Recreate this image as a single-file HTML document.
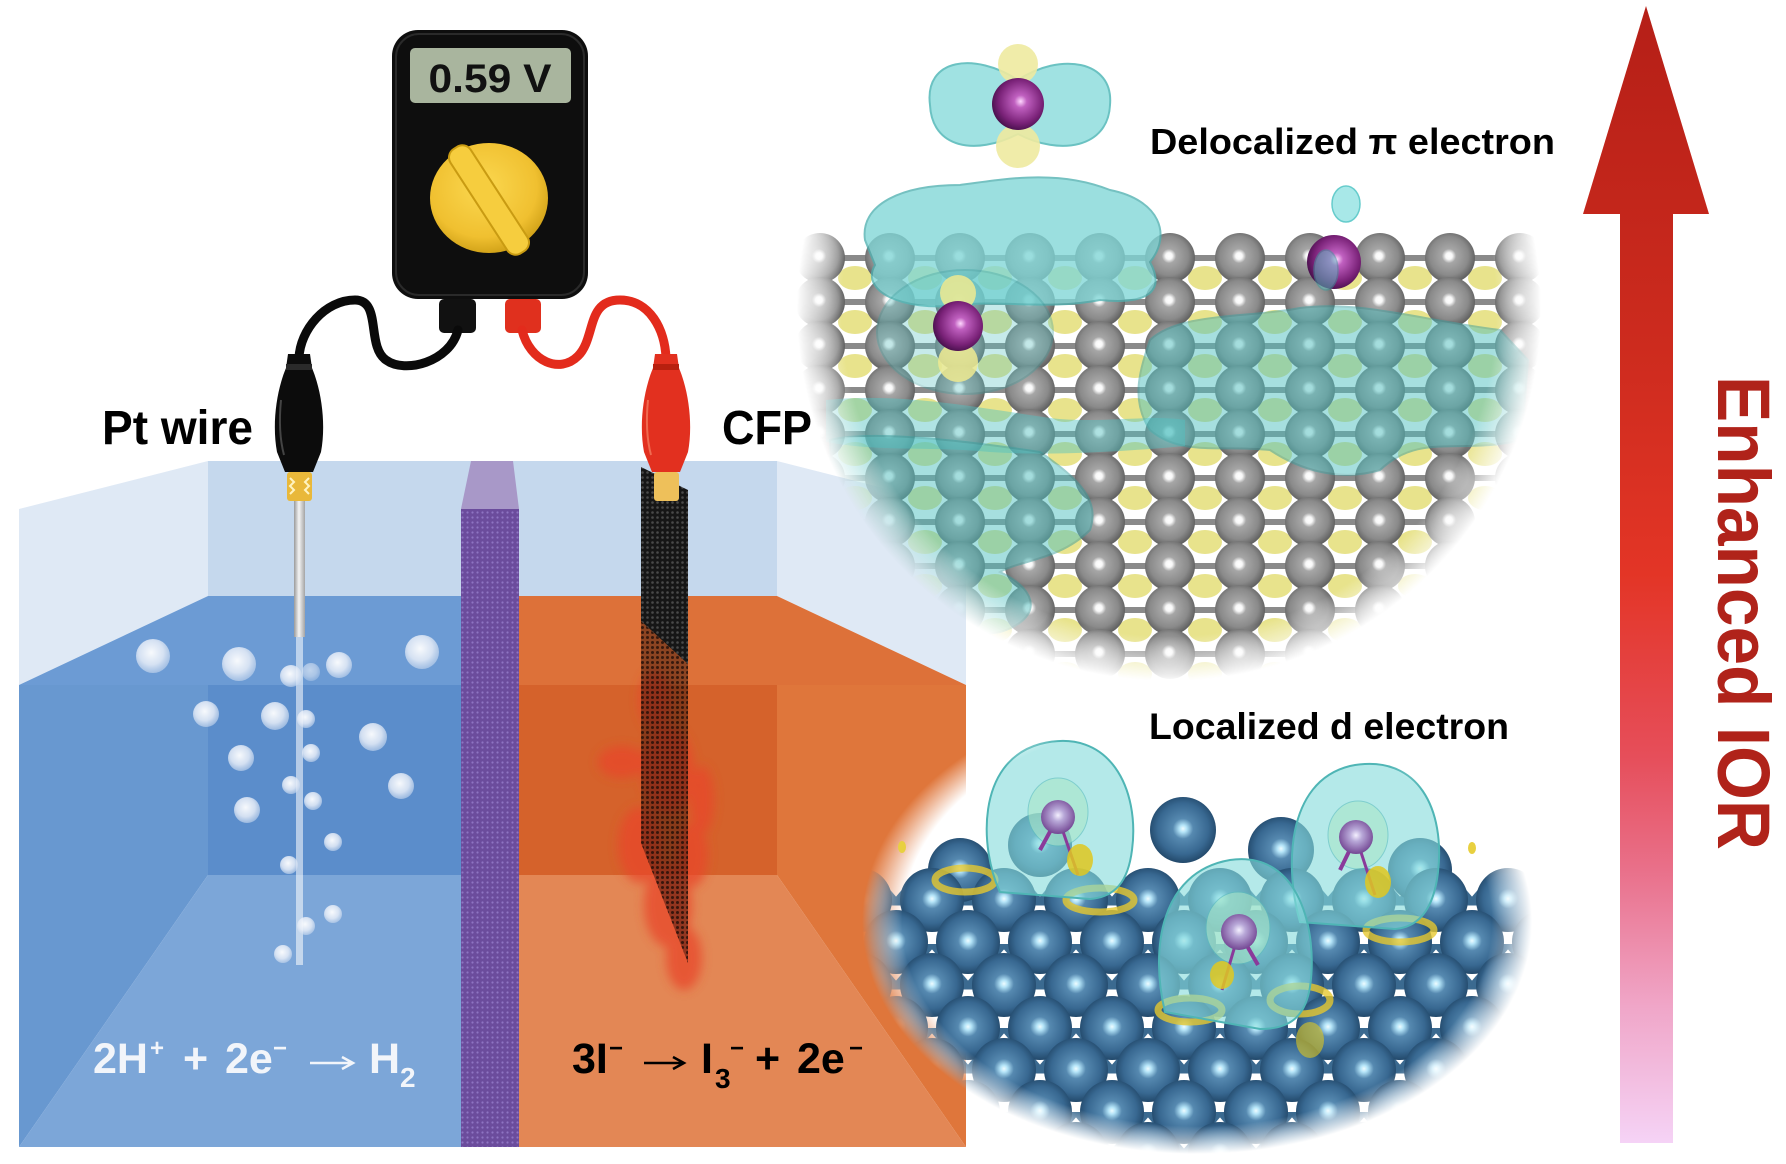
<!DOCTYPE html>
<html><head><meta charset="utf-8"><style>html,body{margin:0;padding:0;background:#fff}svg{display:block}</style></head>
<body>
<svg width="1786" height="1164" viewBox="0 0 1786 1164" xmlns="http://www.w3.org/2000/svg" font-family="'Liberation Sans', sans-serif" font-weight="bold">
<defs>
  <radialGradient id="grayG" cx="0.48" cy="0.46" r="0.55">
    <stop offset="0" stop-color="#ffffff"/><stop offset="0.12" stop-color="#f8f8f8"/><stop offset="0.26" stop-color="#a6a6a6"/><stop offset="0.7" stop-color="#8a8a8a"/><stop offset="1" stop-color="#5c5c5c"/>
  </radialGradient>
  <radialGradient id="blueG" cx="0.5" cy="0.48" r="0.55">
    <stop offset="0" stop-color="#effcff"/><stop offset="0.1" stop-color="#b4e4f8"/><stop offset="0.28" stop-color="#5689b0"/><stop offset="0.7" stop-color="#386891"/><stop offset="1" stop-color="#1e4262"/>
  </radialGradient>
  <radialGradient id="purpG" cx="0.55" cy="0.45" r="0.6">
    <stop offset="0" stop-color="#ffd8ff"/><stop offset="0.2" stop-color="#c060c0"/><stop offset="0.7" stop-color="#7a2278"/><stop offset="1" stop-color="#3e0c44"/>
  </radialGradient>
  <radialGradient id="lavG" cx="0.5" cy="0.45" r="0.6">
    <stop offset="0" stop-color="#f4f0ff"/><stop offset="0.3" stop-color="#b8a8d8"/><stop offset="1" stop-color="#6a3a8a"/>
  </radialGradient>
  <radialGradient id="bubG" cx="0.45" cy="0.4" r="0.6">
    <stop offset="0" stop-color="#ffffff" stop-opacity="0.95"/><stop offset="0.6" stop-color="#e8eef8" stop-opacity="0.85"/><stop offset="1" stop-color="#c8d8ee" stop-opacity="0.6"/>
  </radialGradient>
  <radialGradient id="knobG" cx="0.45" cy="0.4" r="0.65">
    <stop offset="0" stop-color="#fbd850"/><stop offset="0.7" stop-color="#f0c030"/><stop offset="1" stop-color="#c99a12"/>
  </radialGradient>
  <radialGradient id="fadeMask" cx="0.5" cy="0.5" r="0.5">
    <stop offset="0" stop-color="#fff"/><stop offset="0.88" stop-color="#fff"/><stop offset="1" stop-color="#000"/>
  </radialGradient>
  <radialGradient id="whiteFade" cx="0.5" cy="0.5" r="0.5">
    <stop offset="0" stop-color="#fff" stop-opacity="1"/><stop offset="0.88" stop-color="#fff" stop-opacity="1"/><stop offset="1" stop-color="#fff" stop-opacity="0"/>
  </radialGradient>
  <linearGradient id="arrowG" x1="0" y1="6" x2="0" y2="1143" gradientUnits="userSpaceOnUse">
    <stop offset="0" stop-color="#b51f17"/><stop offset="0.3" stop-color="#cd2b1e"/><stop offset="0.5" stop-color="#e33526"/><stop offset="0.66" stop-color="#e64e5a"/><stop offset="0.76" stop-color="#e9708a"/><stop offset="0.88" stop-color="#f0a6c8"/><stop offset="1" stop-color="#f5d3f6"/>
  </linearGradient>
  <linearGradient id="rodG" x1="0" y1="0" x2="1" y2="0">
    <stop offset="0" stop-color="#9a9a9a"/><stop offset="0.45" stop-color="#f4f4f4"/><stop offset="1" stop-color="#a4a4a4"/>
  </linearGradient>
  <pattern id="carbon" width="5" height="5" patternUnits="userSpaceOnUse">
    <rect width="5" height="5" fill="#161616"/><circle cx="2.5" cy="2.5" r="1.3" fill="#4a4a4a"/>
  </pattern>
  <pattern id="carbonT" width="5" height="5" patternUnits="userSpaceOnUse">
    <circle cx="2.5" cy="2.5" r="1.5" fill="#1a0a05" fill-opacity="0.75"/>
  </pattern>
  <pattern id="memb" width="5" height="5" patternUnits="userSpaceOnUse">
    <rect width="5" height="5" fill="#6b4c9c"/><circle cx="2.5" cy="2.5" r="1.1" fill="#8e74c2"/>
  </pattern>
  <pattern id="bonds" width="72" height="42" patternUnits="userSpaceOnUse" x="860" y="860">
    <line x1="0" y1="0" x2="36" y2="42" stroke="#3b6a90" stroke-width="7"/>
    <line x1="72" y1="0" x2="36" y2="42" stroke="#3b6a90" stroke-width="7"/>
    <line x1="0" y1="0" x2="72" y2="0" stroke="#3b6a90" stroke-width="7"/>
  </pattern>
  <filter id="blur4" x="-50%" y="-50%" width="200%" height="200%"><feGaussianBlur stdDeviation="5"/></filter>
  <mask id="mU" maskUnits="userSpaceOnUse" x="0" y="0" width="1786" height="1164">
    <circle cx="1169" cy="309" r="372" fill="url(#fadeMask)"/>
  </mask>
  <mask id="mL" maskUnits="userSpaceOnUse" x="0" y="0" width="1786" height="1164">
    <rect x="862" y="690" width="670" height="464" fill="url(#fadeMask)"/>
  </mask>
  <g id="rowU">
    <line x1="820" y1="0" x2="1520" y2="0" stroke="#8a8a8a" stroke-width="6"/>
    <ellipse cx="855" cy="20" rx="17" ry="12" fill="#e4de78" opacity="0.85"/>
    <ellipse cx="925" cy="20" rx="17" ry="12" fill="#e4de78" opacity="0.85"/>
    <ellipse cx="995" cy="20" rx="17" ry="12" fill="#e4de78" opacity="0.85"/>
    <ellipse cx="1065" cy="20" rx="17" ry="12" fill="#e4de78" opacity="0.85"/>
    <ellipse cx="1135" cy="20" rx="17" ry="12" fill="#e4de78" opacity="0.85"/>
    <ellipse cx="1205" cy="20" rx="17" ry="12" fill="#e4de78" opacity="0.85"/>
    <ellipse cx="1275" cy="20" rx="17" ry="12" fill="#e4de78" opacity="0.85"/>
    <ellipse cx="1345" cy="20" rx="17" ry="12" fill="#e4de78" opacity="0.85"/>
    <ellipse cx="1415" cy="20" rx="17" ry="12" fill="#e4de78" opacity="0.85"/>
    <ellipse cx="1485" cy="20" rx="17" ry="12" fill="#e4de78" opacity="0.85"/>
    <circle cx="820" cy="0" r="25" fill="url(#grayG)"/>
    <circle cx="890" cy="0" r="25" fill="url(#grayG)"/>
    <circle cx="960" cy="0" r="25" fill="url(#grayG)"/>
    <circle cx="1030" cy="0" r="25" fill="url(#grayG)"/>
    <circle cx="1100" cy="0" r="25" fill="url(#grayG)"/>
    <circle cx="1170" cy="0" r="25" fill="url(#grayG)"/>
    <circle cx="1240" cy="0" r="25" fill="url(#grayG)"/>
    <circle cx="1310" cy="0" r="25" fill="url(#grayG)"/>
    <circle cx="1380" cy="0" r="25" fill="url(#grayG)"/>
    <circle cx="1450" cy="0" r="25" fill="url(#grayG)"/>
    <circle cx="1520" cy="0" r="25" fill="url(#grayG)"/>
  </g>
  <g id="rowLa">
    <circle cx="860" cy="0" r="32" fill="url(#blueG)"/>
    <circle cx="932" cy="0" r="32" fill="url(#blueG)"/>
    <circle cx="1004" cy="0" r="32" fill="url(#blueG)"/>
    <circle cx="1076" cy="0" r="32" fill="url(#blueG)"/>
    <circle cx="1148" cy="0" r="32" fill="url(#blueG)"/>
    <circle cx="1220" cy="0" r="32" fill="url(#blueG)"/>
    <circle cx="1292" cy="0" r="32" fill="url(#blueG)"/>
    <circle cx="1364" cy="0" r="32" fill="url(#blueG)"/>
    <circle cx="1436" cy="0" r="32" fill="url(#blueG)"/>
    <circle cx="1508" cy="0" r="32" fill="url(#blueG)"/>
  </g>
  <g id="rowLb">
    <circle cx="896" cy="0" r="32" fill="url(#blueG)"/>
    <circle cx="968" cy="0" r="32" fill="url(#blueG)"/>
    <circle cx="1040" cy="0" r="32" fill="url(#blueG)"/>
    <circle cx="1112" cy="0" r="32" fill="url(#blueG)"/>
    <circle cx="1184" cy="0" r="32" fill="url(#blueG)"/>
    <circle cx="1256" cy="0" r="32" fill="url(#blueG)"/>
    <circle cx="1328" cy="0" r="32" fill="url(#blueG)"/>
    <circle cx="1400" cy="0" r="32" fill="url(#blueG)"/>
    <circle cx="1472" cy="0" r="32" fill="url(#blueG)"/>
    <circle cx="1544" cy="0" r="32" fill="url(#blueG)"/>
  </g>
</defs>

<rect width="1786" height="1164" fill="#fff"/>

<!-- ===== TANK ===== -->
<rect x="208" y="461" width="569" height="135" fill="#c5d8ed"/>
<polygon points="19,509 208,461 208,596 19,685" fill="#dfe9f5"/>
<polygon points="966,509 777,461 777,596 966,685" fill="#dfe9f5"/>
<polygon points="19,685 208,596 461,596 461,685" fill="#6c9bd4"/>
<rect x="208" y="685" width="253" height="190" fill="#5b8dcb"/>
<polygon points="19,685 208,685 208,875 19,1147" fill="#6898d0"/>
<polygon points="19,1147 208,875 461,875 461,1147" fill="#7ca6d8"/>
<polygon points="519,596 777,596 966,685 519,685" fill="#dd7139"/>
<rect x="519" y="685" width="258" height="190" fill="#d5622b"/>
<polygon points="777,685 966,685 966,1147 777,875" fill="#df763b"/>
<polygon points="519,875 777,875 966,1147 519,1147" fill="#e38755"/>
<polygon points="471,461 513,461 519,509 461,509" fill="#a898c8"/>
<rect x="461" y="509" width="58" height="638" fill="url(#memb)"/>

<!-- Pt wire & bubbles -->
<rect x="294" y="498" width="11" height="139" fill="url(#rodG)"/>
<rect x="296" y="637" width="7" height="328" fill="#ffffff" opacity="0.55"/>
<g fill="url(#bubG)">
  <circle cx="153" cy="656" r="17"/><circle cx="239" cy="664" r="17"/><circle cx="291" cy="676" r="11"/>
  <circle cx="311" cy="672" r="9" opacity="0.6"/><circle cx="339" cy="665" r="13"/><circle cx="422" cy="652" r="17"/>
  <circle cx="206" cy="714" r="13"/><circle cx="275" cy="716" r="14"/><circle cx="306" cy="719" r="9"/>
  <circle cx="373" cy="737" r="14"/><circle cx="241" cy="758" r="13"/><circle cx="311" cy="753" r="9"/>
  <circle cx="291" cy="785" r="9"/><circle cx="401" cy="786" r="13"/><circle cx="313" cy="801" r="9"/>
  <circle cx="247" cy="810" r="13"/><circle cx="333" cy="842" r="9"/><circle cx="289" cy="865" r="9"/>
  <circle cx="333" cy="914" r="9"/><circle cx="306" cy="926" r="9"/><circle cx="283" cy="954" r="9"/>
</g>

<!-- CFP electrode -->
<g filter="url(#blur4)" fill="#e8462c" opacity="0.75">
  <ellipse cx="655" cy="700" rx="16" ry="30"/>
  <ellipse cx="622" cy="762" rx="24" ry="16"/>
  <ellipse cx="668" cy="770" rx="26" ry="44"/>
  <ellipse cx="702" cy="800" rx="12" ry="34"/>
  <ellipse cx="640" cy="845" rx="22" ry="38"/>
  <ellipse cx="692" cy="855" rx="16" ry="32"/>
  <ellipse cx="668" cy="905" rx="24" ry="42"/>
  <ellipse cx="684" cy="958" rx="18" ry="32"/>
</g>
<polygon points="641,621 688,664 688,963 641,843" fill="#2a0d06" opacity="0.45"/>
<polygon points="641,621 688,664 688,963 641,843" fill="url(#carbonT)"/>
<polygon points="641,467 688,490 688,664 641,621" fill="url(#carbon)"/>

<!-- ===== MULTIMETER ===== -->
<rect x="392" y="30" width="196" height="269" rx="26" fill="#0e0e0e"/>
<rect x="396" y="34" width="188" height="261" rx="23" fill="none" stroke="#2a2a2a" stroke-width="2"/>
<rect x="410" y="48" width="161" height="55" rx="5" fill="#a9b59e"/>
<text x="490" y="92" font-size="40" text-anchor="middle" fill="#111" textLength="123" lengthAdjust="spacingAndGlyphs">0.59 V</text>
<ellipse cx="489" cy="198" rx="59" ry="55" fill="url(#knobG)"/>
<rect x="477" y="138" width="24" height="124" rx="10" fill="#f6cd3e" stroke="#c99b12" stroke-width="2" transform="rotate(-33 489 200)"/>
<rect x="439" y="299" width="37" height="34" rx="5" fill="#111"/>
<rect x="505" y="299" width="36" height="34" rx="5" fill="#e0301e"/>

<!-- wires -->
<path d="M 458 330 C 450 362, 405 374, 386 360 C 366 346, 382 300, 355 300 C 325 300, 300 330, 299 358" fill="none" stroke="#0a0a0a" stroke-width="9" stroke-linecap="round"/>
<path d="M 522 330 C 530 362, 560 374, 578 356 C 596 338, 586 300, 620 300 C 650 300, 665 330, 666 358" fill="none" stroke="#e32b1c" stroke-width="9" stroke-linecap="round"/>

<!-- clips -->
<g>
  <path d="M288 354 L310 354 L312 368 C322 392 326 425 321 452 L313 472 L285 472 L277 452 C272 425 276 392 286 368 Z" fill="#0c0c0c"/>
  <rect x="286" y="364" width="26" height="6" fill="#2a2a2a"/>
  <path d="M281 400 C279 420 280 440 284 455" stroke="#444" stroke-width="2" fill="none"/>
  <rect x="287" y="472" width="25" height="29" rx="3" fill="#e9b83a"/>
  <path d="M290 478 l4 4 l-4 4 l4 4 l-4 4 M309 478 l-4 4 l4 4 l-4 4 l4 4" stroke="#fff3c0" stroke-width="2" fill="none"/>
</g>
<g transform="translate(367,0)">
  <path d="M288 354 L310 354 L312 368 C322 392 326 425 321 452 L313 472 L285 472 L277 452 C272 425 276 392 286 368 Z" fill="#e2301f"/>
  <rect x="286" y="364" width="26" height="6" fill="#b8200f"/>
  <path d="M281 400 C279 420 280 440 284 455" stroke="#f06a50" stroke-width="2" fill="none"/>
  <rect x="287" y="472" width="25" height="29" rx="3" fill="#eec05a"/>
</g>

<!-- ===== UPPER ATOMIC PANEL ===== -->
<circle cx="1169" cy="309" r="372" fill="url(#whiteFade)"/>
<g mask="url(#mU)">
  <use href="#rowU" transform="translate(0,258)"/>
  <use href="#rowU" transform="translate(0,302)"/>
  <use href="#rowU" transform="translate(0,346)"/>
  <use href="#rowU" transform="translate(0,390)"/>
  <use href="#rowU" transform="translate(0,434)"/>
  <use href="#rowU" transform="translate(0,478)"/>
  <use href="#rowU" transform="translate(0,522)"/>
  <use href="#rowU" transform="translate(0,566)"/>
  <use href="#rowU" transform="translate(0,610)"/>
  <use href="#rowU" transform="translate(0,654)"/>
  <path d="M865 240 C860 205 900 185 960 185 C1010 178 1060 170 1110 190 C1160 200 1172 235 1150 262 C1165 290 1150 305 1100 300 C1050 310 1000 300 960 305 C900 312 860 290 875 265 Z" fill="#7fd6d6" opacity="0.78" stroke="#4fb0b0" stroke-width="2"/>
  <ellipse cx="965" cy="332" rx="88" ry="62" fill="#5cc4c4" opacity="0.35" stroke="#3a9f9f" stroke-width="2"/>
  <path d="M1150 340 C1180 312 1250 318 1300 308 C1360 300 1420 320 1500 330 L1528 360 L1522 440 C1460 455 1420 432 1380 470 C1340 482 1300 470 1270 450 C1220 445 1180 456 1150 430 C1130 400 1140 370 1150 340 Z" fill="#4fc0c0" opacity="0.5" stroke="#3a9f9f" stroke-width="2"/>
  <path d="M826 400 C900 392 980 408 1050 418 C1100 424 1150 414 1185 420 L1185 446 C1120 452 1050 456 990 452 C930 446 880 452 826 442 Z" fill="#4fc0c0" opacity="0.45"/>
  <path d="M830 440 C870 430 960 440 1040 452 C1080 480 1100 500 1090 530 C1060 560 1020 560 1000 572 C1042 592 1040 620 1000 632 C950 642 900 626 860 602 C840 562 830 500 830 440 Z" fill="#4fc0c0" opacity="0.5" stroke="#3a9f9f" stroke-width="2"/>
</g>
<path d="M930 105 C924 58 975 52 1018 80 C1060 52 1114 60 1110 105 C1108 148 1060 156 1018 134 C975 156 932 148 930 105 Z" fill="#96dfdf" opacity="0.9" stroke="#5cbcbc" stroke-width="2"/>
<circle cx="1018" cy="64" r="20" fill="#eeeaa0" opacity="0.9"/>
<circle cx="1018" cy="146" r="22" fill="#eeeaa0" opacity="0.9"/>
<circle cx="1018" cy="104" r="26" fill="url(#purpG)"/>
<circle cx="958" cy="293" r="18" fill="#eeea90" opacity="0.85"/>
<circle cx="958" cy="362" r="20" fill="#eeea90" opacity="0.85"/>
<circle cx="958" cy="326" r="25" fill="url(#purpG)"/>
<ellipse cx="1346" cy="204" rx="14" ry="18" fill="#a8e8e8" stroke="#6cc" stroke-width="1.5"/>
<circle cx="1334" cy="262" r="27" fill="url(#purpG)"/>
<ellipse cx="1326" cy="270" rx="12" ry="20" fill="#5cc4c4" opacity="0.5" stroke="#3a9f9f" stroke-width="1.5"/>

<!-- ===== LOWER ATOMIC PANEL ===== -->
<rect x="862" y="690" width="670" height="464" fill="url(#whiteFade)"/>
<g mask="url(#mL)">
  <rect x="850" y="872" width="700" height="292" fill="url(#bonds)"/>
  <circle cx="1183" cy="830" r="33" fill="url(#blueG)"/>
  <circle cx="1281" cy="850" r="33" fill="url(#blueG)"/>
  <circle cx="1040" cy="845" r="32" fill="url(#blueG)"/>
  <circle cx="960" cy="870" r="32" fill="url(#blueG)"/>
  <circle cx="1420" cy="870" r="32" fill="url(#blueG)"/>
  <use href="#rowLa" transform="translate(0,900)"/>
  <use href="#rowLb" transform="translate(0,942)"/>
  <use href="#rowLa" transform="translate(0,985)"/>
  <use href="#rowLb" transform="translate(0,1028)"/>
  <use href="#rowLa" transform="translate(0,1070)"/>
  <use href="#rowLb" transform="translate(0,1112)"/>
  <use href="#rowLa" transform="translate(0,1154)"/>
  <g fill="none" stroke="#e6c830" stroke-width="7" opacity="0.8">
    <ellipse cx="1100" cy="900" rx="34" ry="12"/>
    <ellipse cx="965" cy="880" rx="30" ry="12"/>
    <ellipse cx="1400" cy="930" rx="34" ry="12"/>
    <ellipse cx="1190" cy="1010" rx="32" ry="12"/>
    <ellipse cx="1300" cy="1000" rx="30" ry="14"/>
  </g>
  <g stroke="#4fb5b5" stroke-width="2">
    <path d="M1000 892 C980 850 975 762 1040 744 C1110 726 1140 790 1132 850 C1128 882 1115 897 1090 899 Z" fill="#86dcdc" fill-opacity="0.62"/>
    <path d="M1300 922 C1285 870 1285 782 1350 766 C1420 752 1445 812 1438 872 C1434 907 1420 927 1395 929 Z" fill="#86dcdc" fill-opacity="0.62"/>
    <path d="M1165 1012 C1150 950 1160 872 1230 860 C1300 850 1318 932 1310 987 C1305 1017 1290 1029 1260 1029 Z" fill="#86dcdc" fill-opacity="0.62"/>
  </g>
  <g>
    <ellipse cx="1058" cy="812" rx="30" ry="34" fill="#a8e6c8" opacity="0.6" stroke="#5cbcbc"/>
    <ellipse cx="1358" cy="835" rx="30" ry="34" fill="#a8e6c8" opacity="0.6" stroke="#5cbcbc"/>
    <ellipse cx="1238" cy="928" rx="32" ry="36" fill="#a8e6c8" opacity="0.6" stroke="#5cbcbc"/>
    <line x1="1058" y1="817" x2="1040" y2="850" stroke="#8a3a9a" stroke-width="4"/>
    <line x1="1058" y1="817" x2="1078" y2="875" stroke="#8a3a9a" stroke-width="3"/>
    <line x1="1356" y1="837" x2="1340" y2="870" stroke="#8a3a9a" stroke-width="4"/>
    <line x1="1356" y1="837" x2="1375" y2="895" stroke="#8a3a9a" stroke-width="3"/>
    <line x1="1239" y1="932" x2="1258" y2="965" stroke="#8a3a9a" stroke-width="4"/>
    <line x1="1239" y1="932" x2="1222" y2="990" stroke="#8a3a9a" stroke-width="3"/>
    <circle cx="1058" cy="817" r="17" fill="url(#lavG)"/>
    <circle cx="1356" cy="837" r="17" fill="url(#lavG)"/>
    <circle cx="1239" cy="932" r="18" fill="url(#lavG)"/>
    <ellipse cx="1080" cy="860" rx="13" ry="16" fill="#e0c820" opacity="0.85"/>
    <ellipse cx="1378" cy="882" rx="13" ry="16" fill="#e0c820" opacity="0.85"/>
    <ellipse cx="1222" cy="975" rx="12" ry="14" fill="#e0c820" opacity="0.85"/>
    <ellipse cx="1310" cy="1040" rx="14" ry="18" fill="#e0c820" opacity="0.6"/>
  </g>
</g>
<ellipse cx="902" cy="847" rx="4" ry="6" fill="#e8d040"/>
<ellipse cx="1472" cy="848" rx="4" ry="6" fill="#e8d040"/>

<!-- ===== ARROW ===== -->
<polygon points="1646,6 1709,214 1583,214" fill="url(#arrowG)"/>
<rect x="1620" y="212" width="53" height="931" fill="url(#arrowG)"/>
<text transform="translate(1718,376) rotate(90)" font-size="74" fill="#b0231a" textLength="474" lengthAdjust="spacingAndGlyphs">Enhanced IOR</text>

<!-- ===== LABELS ===== -->
<text x="102" y="444" font-size="48" fill="#000" textLength="151" lengthAdjust="spacingAndGlyphs">Pt wire</text>
<text x="722" y="444" font-size="48" fill="#000" textLength="90" lengthAdjust="spacingAndGlyphs">CFP</text>
<text x="1150" y="154" font-size="36" fill="#000" textLength="405" lengthAdjust="spacingAndGlyphs">Delocalized π electron</text>
<text x="1149" y="739" font-size="37" fill="#000" textLength="360" lengthAdjust="spacingAndGlyphs">Localized d electron</text>

<!-- equations -->
<g fill="#f2f5fa">
  <text x="93" y="1073" font-size="43">2H</text>
  <text x="150" y="1056" font-size="24">+</text>
  <text x="183" y="1073" font-size="43">+</text>
  <text x="225" y="1073" font-size="43">2e</text>
  <text x="273" y="1056" font-size="24">−</text>
  <text x="369" y="1073" font-size="43">H</text>
  <text x="400" y="1087" font-size="28">2</text>
</g>
<path d="M310 1063 L351 1063 M342 1057 L353 1063 L342 1069" fill="none" stroke="#f2f5fa" stroke-width="2.5"/>
<g fill="#000">
  <text x="572" y="1073" font-size="43">3I</text>
  <text x="609" y="1056" font-size="24">−</text>
  <text x="701" y="1073" font-size="43">I</text>
  <text x="715" y="1088" font-size="28">3</text>
  <text x="730" y="1056" font-size="24">−</text>
  <text x="755" y="1073" font-size="43">+</text>
  <text x="797" y="1073" font-size="43">2e</text>
  <text x="849" y="1056" font-size="24">−</text>
</g>
<path d="M644 1063 L682 1063 M673 1057 L684 1063 L673 1069" fill="none" stroke="#000" stroke-width="2.5"/>
</svg>
</body></html>
